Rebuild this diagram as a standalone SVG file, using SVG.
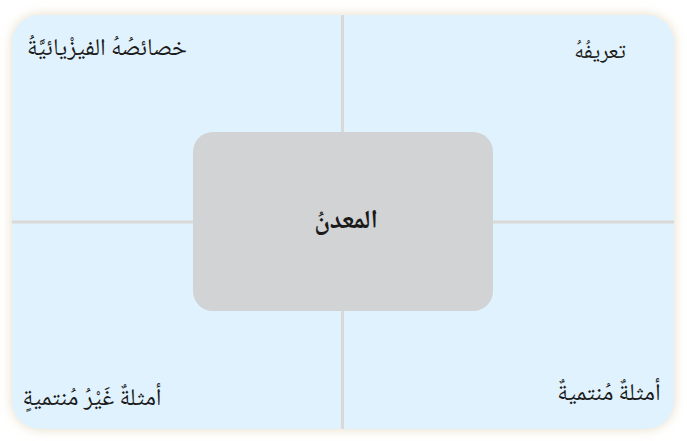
<svg xmlns="http://www.w3.org/2000/svg" width="687" height="441" viewBox="0 0 687 441">
  <defs>
    <filter id="glow" x="-10%" y="-10%" width="120%" height="120%">
      <feDropShadow dx="0" dy="0" stdDeviation="6" flood-color="#E3D8BE" flood-opacity="0.9"/>
    </filter>
    <style>
      .quad { fill: #E0F2FD; }
      .div { stroke: #D9D9D9; stroke-width: 3; fill: none; }
      .lbl { font-family: "Noto Naskh Arabic", "DejaVu Sans", sans-serif; font-size: 24px; fill: #1A1A1A; direction: rtl; text-anchor: middle; }
      .center { fill: #D1D3D4; }
      .ctr { font-family: "Noto Naskh Arabic", "DejaVu Sans", sans-serif; font-size: 26px; font-weight: bold; fill: #1A1A1A; direction: rtl; text-anchor: middle; }
    </style>
  </defs>
  <rect width="687" height="441" fill="#FFFFFF"/>
  <g filter="url(#glow)">
    <rect x="12" y="15" width="662" height="414" rx="28" fill="#E0F2FD"/>
  </g>
  <g id="quadrant-properties">
    <path class="quad" d="M12,43 A28,28 0 0 1 40,15 H342 V222 H12 Z"/>
    <text class="lbl" x="107" y="55">خصائصُهُ الفيزْيائيَّةُ</text>
  </g>
  <g id="quadrant-definition">
    <path class="quad" d="M342,15 H646 A28,28 0 0 1 674,43 V222 H342 Z"/>
    <text class="lbl" x="600" y="58" style="font-size:22px">تعريفُهُ</text>
  </g>
  <g id="quadrant-nonexamples">
    <path class="quad" d="M12,222 H342 V429 H40 A28,28 0 0 1 12,401 Z"/>
    <text class="lbl" x="92" y="405">أمثلةٌ غَيْرُ مُنتميةٍ</text>
  </g>
  <g id="quadrant-examples">
    <path class="quad" d="M342,222 H674 V401 A28,28 0 0 1 646,429 H342 Z"/>
    <text class="lbl" x="609" y="400">أمثلةٌ مُنتميةٌ</text>
  </g>
  <g id="connectors">
    <line class="div" x1="342.5" y1="15" x2="342.5" y2="429"/>
    <line class="div" x1="12" y1="222" x2="674" y2="222"/>
  </g>
  <g id="node-mineral">
    <rect class="center" x="193" y="132" width="300" height="179" rx="20"/>
    <text class="ctr" x="346" y="228">المعدنُ</text>
  </g>
</svg>
